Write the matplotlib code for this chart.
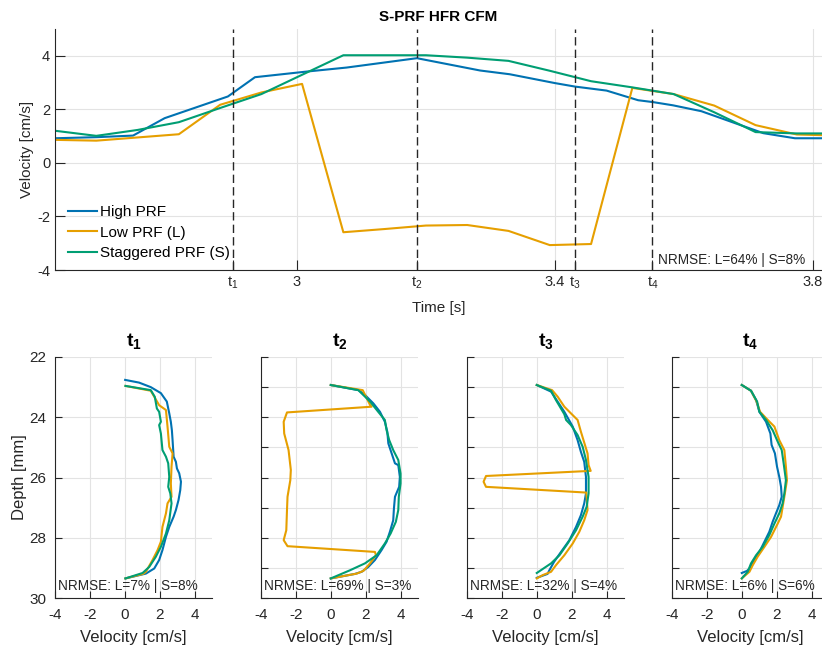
import numpy as np
import matplotlib
matplotlib.use("Agg")
import matplotlib.pyplot as plt

plt.rcParams['font.family'] = ['Liberation Sans', 'DejaVu Sans']
plt.rcParams['mathtext.fontset'] = 'custom'
plt.rcParams['mathtext.rm'] = 'Liberation Sans'
plt.rcParams['mathtext.bf'] = 'Liberation Sans:bold'
plt.rcParams['mathtext.it'] = 'Liberation Sans:italic'
plt.rcParams['axes.unicode_minus'] = False

# colours (high / low / staggered PRF)
c_high = '#0072B2'
c_low = '#E69F00'
c_stag = '#009E73'
ink = '#262626'
gridc = '#e3e3e3'

# ---- top panel: velocity over time ----
time_high = [2.625, 2.689, 2.746, 2.795, 2.893, 2.935, 3.015, 3.077, 3.186, 3.284, 3.330,
             3.400, 3.431, 3.480, 3.529, 3.552, 3.583, 3.627, 3.723, 3.772, 3.839]
vel_high = [0.92, 0.96, 1.02, 1.67, 2.48, 3.20, 3.41, 3.56, 3.91, 3.45, 3.31,
            2.98, 2.85, 2.70, 2.34, 2.27, 2.15, 1.93, 1.11, 0.92, 0.92]
time_low = [2.625, 2.689, 2.753, 2.817, 2.881, 2.945, 3.008, 3.072, 3.136, 3.200,
            3.264, 3.328, 3.392, 3.456, 3.520, 3.584, 3.647, 3.711, 3.775, 3.839]
vel_low = [0.86, 0.83, 0.95, 1.07, 2.17, 2.63, 2.95, -2.59, -2.47, -2.34,
           -2.32, -2.54, -3.07, -3.03, 2.80, 2.57, 2.14, 1.41, 1.06, 1.02]
vel_stag = [1.20, 1.01, 1.23, 1.52, 2.05, 2.57, 3.29, 4.02, 4.02, 4.02,
            3.93, 3.81, 3.44, 3.05, 2.82, 2.57, 1.89, 1.15, 1.10, 1.10]

t_marks = [2.901, 3.186, 3.431, 3.551]
t_names = [r'$\mathregular{t_1}$', r'$\mathregular{t_2}$', r'$\mathregular{t_3}$', r'$\mathregular{t_4}$']
num_ticks = [3.0, 3.4, 3.8]
top_nrmse = 'NRMSE: L=64% | S=8%'

# ---- bottom panels: (velocity, depth) profiles at t1..t4 ----
t1_high = [(0.02, 22.76), (0.82, 22.85), (1.49, 23.00), (2.07, 23.20), (2.41, 23.48), (2.55, 23.87),
           (2.64, 24.15), (2.70, 24.43), (2.74, 24.76), (2.80, 25.31), (2.93, 25.48), (2.99, 25.70),
           (3.12, 25.86), (3.22, 26.14), (3.18, 26.42), (3.08, 26.75), (2.93, 27.08), (2.80, 27.30),
           (2.55, 27.64), (2.36, 27.97), (2.16, 28.41), (1.97, 28.74), (1.69, 29.02), (1.21, 29.19),
           (0.04, 29.35)]
t1_low = [(0.04, 22.96), (1.49, 23.12), (1.97, 23.60), (2.36, 23.76), (2.45, 24.31), (2.55, 24.98),
          (2.74, 25.20), (2.68, 25.64), (2.64, 26.20), (2.68, 26.64), (2.45, 26.86), (2.36, 27.19),
          (2.16, 27.64), (2.07, 28.13), (1.88, 28.41), (1.59, 28.74), (1.21, 29.13), (1.05, 29.20),
          (0.04, 29.35)]
t1_stag = [(0.04, 22.96), (1.49, 23.10), (1.72, 23.32), (1.84, 23.71), (1.97, 23.82), (2.07, 24.15),
           (1.97, 24.26), (2.07, 24.54), (2.16, 25.09), (2.36, 25.31), (2.49, 25.53), (2.55, 25.98),
           (2.49, 26.31), (2.61, 26.53), (2.68, 26.86), (2.55, 27.42), (2.36, 27.86), (2.07, 28.30),
           (1.78, 28.63), (1.40, 28.97), (1.02, 29.17), (0.04, 29.35)]

t2_high = [(0, 22.93), (1.58, 23.10), (1.96, 23.26), (2.44, 23.54), (2.82, 23.82), (3.10, 24.15),
           (3.24, 24.48), (3.30, 24.87), (3.49, 25.20), (3.68, 25.53), (3.87, 25.59), (3.96, 25.98),
           (3.92, 26.31), (3.68, 26.64), (3.62, 27.03), (3.58, 27.42), (3.39, 27.80), (3.20, 28.13),
           (2.91, 28.41), (2.53, 28.74), (2.15, 28.97), (1.77, 29.13), (1.39, 29.20), (0, 29.35)]
t2_low = [(0, 22.93), (1.83, 23.10), (2.25, 23.59), (2.34, 23.65), (-2.51, 23.84), (-2.70, 24.15),
          (-2.67, 24.54), (-2.42, 25.09), (-2.29, 25.75), (-2.32, 26.09), (-2.48, 26.64), (-2.51, 27.08),
          (-2.55, 27.75), (-2.70, 28.08), (-2.48, 28.28), (2.53, 28.47), (2.59, 28.58), (2.25, 28.85),
          (1.87, 29.10), (1.49, 29.19), (0, 29.35)]
t2_stag = [(0, 22.93), (1.58, 23.10), (2.25, 23.48), (2.72, 23.82), (3.10, 24.09), (3.20, 24.43),
           (3.35, 24.76), (3.58, 25.09), (3.87, 25.42), (4.00, 25.87), (4.00, 26.20), (3.90, 26.64),
           (3.87, 27.08), (3.73, 27.47), (3.43, 27.86), (3.10, 28.19), (2.63, 28.58), (1.96, 28.85),
           (1.10, 29.08), (0, 29.35)]

t3_high = [(0, 22.93), (0.82, 23.15), (1.58, 23.82), (2.06, 24.31), (2.34, 24.76), (2.53, 25.15),
           (2.72, 25.48), (2.82, 25.98), (2.82, 26.53), (2.72, 26.86), (2.53, 27.25), (2.25, 27.64),
           (1.87, 28.08), (1.39, 28.47), (0.99, 28.80), (0.72, 29.08), (0.62, 29.20), (0, 29.33)]
t3_low = [(0, 22.93), (0.88, 23.10), (1.20, 23.32), (1.58, 23.65), (1.87, 23.82), (2.34, 24.09),
          (2.53, 24.48), (2.91, 25.20), (2.97, 25.59), (3.09, 25.78), (-2.91, 25.95), (-3.05, 26.14),
          (-2.91, 26.31), (2.84, 26.50), (2.91, 27.08), (2.72, 27.42), (2.44, 27.80), (2.06, 28.19),
          (1.58, 28.58), (1.10, 28.91), (0.82, 29.13), (0.34, 29.24), (0, 29.35)]
t3_stag = [(0, 22.93), (0.82, 23.12), (1.10, 23.43), (1.58, 23.90), (1.68, 24.09), (1.96, 24.26),
           (2.34, 24.59), (2.63, 24.98), (2.82, 25.42), (2.97, 25.98), (2.97, 26.53), (2.86, 26.97),
           (2.63, 27.30), (2.25, 27.75), (1.77, 28.19), (1.30, 28.58), (0.82, 28.85), (0, 29.17)]

t4_high = [(0, 22.93), (0.53, 23.12), (0.82, 23.43), (1.01, 23.82), (1.39, 24.15), (1.64, 24.54),
           (1.71, 24.92), (1.90, 25.20), (2.02, 25.64), (2.15, 25.98), (2.25, 26.31), (2.29, 26.64),
           (2.15, 26.92), (1.96, 27.19), (1.77, 27.47), (1.58, 27.80), (1.30, 28.13), (1.01, 28.47),
           (0.72, 28.74), (0.44, 29.02), (0.30, 29.10), (0, 29.17)]
t4_low = [(0, 22.93), (0.53, 23.12), (0.85, 23.48), (1.05, 23.82), (1.49, 24.09), (1.87, 24.31),
          (2.15, 24.76), (2.44, 25.09), (2.53, 25.64), (2.59, 26.09), (2.44, 26.64), (2.25, 27.30),
          (2.06, 27.53), (1.68, 27.97), (1.30, 28.30), (0.91, 28.63), (0.63, 28.91), (0.44, 29.13),
          (0, 29.35)]
t4_stag = [(0, 22.93), (0.53, 23.12), (0.88, 23.48), (1.01, 23.82), (1.39, 24.09), (1.77, 24.43),
           (2.06, 24.81), (2.29, 25.09), (2.40, 25.53), (2.53, 26.09), (2.44, 26.53), (2.34, 26.86),
           (2.15, 27.19), (1.87, 27.53), (1.58, 27.91), (1.20, 28.30), (0.82, 28.58), (0.53, 28.85),
           (0.34, 29.13), (0, 29.35)]

profiles = [(t1_high, t1_low, t1_stag), (t2_high, t2_low, t2_stag),
            (t3_high, t3_low, t3_stag), (t4_high, t4_low, t4_stag)]
panel_titles = [r'$\mathbf{t_1}$', r'$\mathbf{t_2}$', r'$\mathbf{t_3}$', r'$\mathbf{t_4}$']
panel_nrmse = ['NRMSE: L=7% | S=8%', 'NRMSE: L=69% | S=3%',
               'NRMSE: L=32% | S=4%', 'NRMSE: L=6% | S=6%']


def style(ax, tlen):
    for s in ['top', 'right']:
        ax.spines[s].set_visible(False)
    for s in ['left', 'bottom']:
        ax.spines[s].set_color(ink)
        ax.spines[s].set_linewidth(0.8)
    ax.tick_params(direction='in', length=tlen, width=0.8, color=ink, labelcolor=ink)
    ax.grid(True, color=gridc, linewidth=0.8)
    ax.set_axisbelow(True)


W, H = 822, 650
fig = plt.figure(figsize=(W / 100, H / 100), dpi=100)

# top axes
ax = fig.add_axes([55 / W, 1 - 270 / H, 767 / W, 241 / H])
style(ax, 7)
ax.plot(time_high, vel_high, color=c_high, lw=1.5, label='High PRF')
ax.plot(time_low, vel_low, color=c_low, lw=1.5, label='Low PRF (L)')
ax.plot(time_low, vel_stag, color=c_stag, lw=1.5, label='Staggered PRF (S)')
for tm in t_marks:
    ax.axvline(tm, color=ink, lw=1.0, ls=(0, (6, 3)), zorder=3)
ax.set_xlim(2.625, 3.814)
ax.set_ylim(-4, 5)
ax.set_yticks([-4, -2, 0, 2, 4])
xt = sorted(t_marks + num_ticks)
lab = {**dict(zip(t_marks, t_names)), **{v: f'{v:g}' for v in num_ticks}}
ax.set_xticks(xt)
ax.set_xticklabels([lab[v] for v in xt])
ax.tick_params(labelsize=10.5)
ax.xaxis.grid(False)
for v in num_ticks:
    ax.axvline(v, color=gridc, lw=0.8, zorder=0.5)
ax.set_xlabel('Time [s]', fontsize=11, color=ink, labelpad=7)
ax.set_ylabel('Velocity [cm/s]', fontsize=11, color=ink, labelpad=2)
ax.set_title('S-PRF HFR CFM', fontsize=11, fontweight='bold', pad=6)
ax.legend(loc='lower left', bbox_to_anchor=(0.017, 0.04), frameon=False, fontsize=11,
          handlelength=1.9, handletextpad=0.2, labelspacing=0.43, borderpad=0, borderaxespad=0)
ax.text(0.786, 0.012, top_nrmse, transform=ax.transAxes, fontsize=9.8, color=ink,
        ha='left', va='bottom')

# bottom axes
lefts = [55, 261, 467, 672]
for i, (hi, lo, st) in enumerate(profiles):
    b = fig.add_axes([lefts[i] / W, 1 - 598 / H, 157 / W, 241 / H])
    style(b, 5)
    for series, col in [(hi, c_high), (lo, c_low), (st, c_stag)]:
        arr = np.array(series)
        b.plot(arr[:, 0], arr[:, 1], color=col, lw=1.5)
    b.set_xlim(-4, 5)
    b.set_ylim(30, 22)
    b.set_xticks([-4, -2, 0, 2, 4])
    if i == 0:
        b.set_yticks([22, 24, 26, 28, 30])
        b.set_ylabel('Depth [mm]', fontsize=12, color=ink, labelpad=2)
    else:
        b.set_yticks(range(22, 31))
        b.set_yticklabels([])
    b.tick_params(labelsize=11)
    b.tick_params(axis='x', pad=7)
    b.tick_params(axis='y', pad=6)
    b.set_xlabel('Velocity [cm/s]', fontsize=12, color=ink, labelpad=6)
    b.set_title(panel_titles[i], fontsize=14, pad=8)
    b.text(0.02, 0.02, panel_nrmse[i], transform=b.transAxes, fontsize=9.8, color=ink,
           ha='left', va='bottom')

fig.savefig('out.png', dpi=100)
